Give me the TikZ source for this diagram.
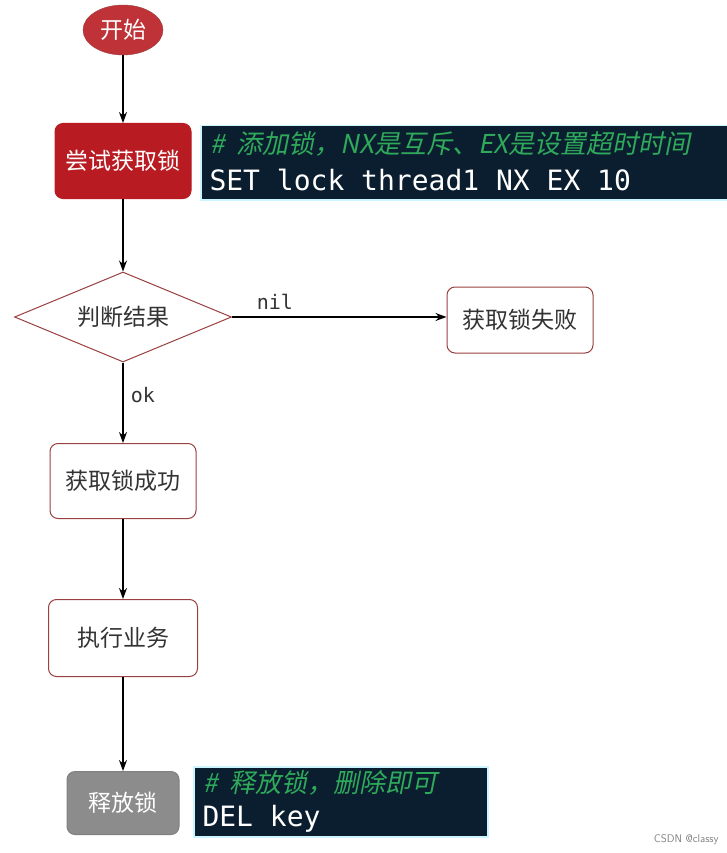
\documentclass[tikz,border=0pt]{standalone}
\usepackage{fontspec}
\newfontfamily\cjk{Noto Sans CJK SC}
\newfontfamily\cjkit[FakeSlant=0.2]{Noto Sans CJK SC}
\setmonofont{DejaVu Sans Mono}
\usetikzlibrary{shapes.geometric,arrows.meta}
\definecolor{redbox}{HTML}{B81C22}
\definecolor{edge}{HTML}{9A4040}
\definecolor{codebg}{HTML}{0B1E30}
\definecolor{codegreen}{HTML}{2EAA5A}
\begin{document}
\begin{tikzpicture}[x=1pt,y=-1pt,
  flow/.style={draw=edge,line width=1pt,rounded corners=8pt,fill=white,font=\cjk\fontsize{23}{26}\selectfont,text=black!80},
  arr/.style={-{Stealth[length=11pt,width=8pt]},black,line width=1.2pt},
  code/.style={fill=codebg,draw=blue!20!cyan!20,line width=1.5pt,anchor=north west,inner sep=0pt},
  lbl/.style={font=\ttfamily\fontsize{20}{22}\selectfont,text=black!80}]
\clip (0,0) rectangle (727,853);
\fill[white] (0,0) rectangle (727,853);
\node[ellipse,fill=redbox!90,draw=edge,minimum width=80pt,minimum height=50pt,inner sep=0pt,font=\cjk\fontsize{23}{26}\selectfont,text=white] (start) at (123,30) {开始};
\node[flow,fill=redbox,draw=redbox,text=white,minimum width=136pt,minimum height=75pt] (try) at (123,161) {尝试获取锁};
\node[code,minimum width=540pt,minimum height=74pt] (c1) at (200,125) {};
\node[anchor=west,font=\cjkit\fontsize{26}{28}\selectfont,text=codegreen] (c1a) at (207,144) {\#\ \ 添加锁，NX是互斥、EX是设置超时时间};
\node[anchor=west,font=\ttfamily\fontsize{28}{30}\selectfont,text=white] (c1b) at (206,180) {SET lock thread1 NX EX 10};
\node[diamond,draw=edge,line width=1pt,fill=white,aspect=2.4,minimum width=217pt,minimum height=90pt,inner sep=0pt,font=\cjk\fontsize{23}{26}\selectfont,text=black!80] (judge) at (123,317) {判断结果};
\node[flow,minimum width=146pt,minimum height=66pt] (fail) at (520,320) {获取锁失败};
\node[flow,minimum width=146pt,minimum height=75pt] (ok) at (123,481) {获取锁成功};
\node[flow,minimum width=149pt,minimum height=77pt] (exec) at (123,638) {执行业务};
\node[flow,fill=gray!90,draw=gray,text=white,minimum width=112pt,minimum height=63pt] (rel) at (123,803) {释放锁};
\node[code,minimum width=294pt,minimum height=70pt] (c2) at (193,766) {};
\node[anchor=west,font=\cjkit\fontsize{26}{28}\selectfont,text=codegreen] (c2a) at (200,783) {\#\ \ 释放锁，删除即可};
\node[anchor=west,font=\ttfamily\fontsize{28}{30}\selectfont,text=white] (c2b) at (199,819) {DEL key};
\draw[arr] (start) -- (try);
\draw[arr] (try) -- (judge);
\draw[arr] (judge.east) -- node[lbl,above=4pt,pos=0.2] {nil} (judge.east -| fail.west);
\draw[arr] (judge) -- node[lbl,right=4pt,pos=0.4] {ok} (ok);
\draw[arr] (ok) -- (exec);
\draw[arr] (exec) -- (rel);
\node[anchor=east,font=\sffamily\fontsize{11}{12}\selectfont,text=gray] (wm) at (722,840) {CSDN @classy};
\end{tikzpicture}
\end{document}
